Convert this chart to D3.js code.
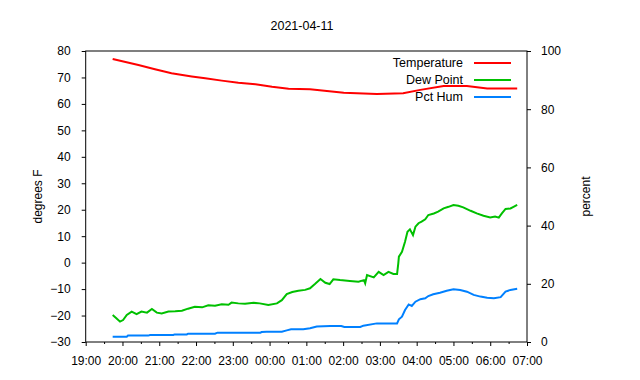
<!DOCTYPE html>
<html>
<head>
<meta charset="utf-8">
<script src="https://cdn.jsdelivr.net/npm/d3@7"></script>
<style>
  html, body { margin: 0; padding: 0; background: #fff; }
  svg { display: block; }
  text { font-family: "Liberation Sans", Arial, sans-serif; fill: #000; }
</style>
</head>
<body>
<svg id="chart" width="640" height="380"></svg>
<script>
// ---- Data ----
const title = "2021-04-11";
const xTickLabels = ["19:00","20:00","21:00","22:00","23:00","00:00","01:00","02:00","03:00","04:00","05:00","06:00","07:00"];
const leftTicks = [-30,-20,-10,0,10,20,30,40,50,60,70,80];
const rightTicks = [0,20,40,60,80,100];
const seriesNames = ["Temperature","Dew Point","Pct Hum"];

const tempTimes = ["19:44","20:26","20:53","21:20","21:53","22:15","22:42","23:09","23:37","00:04","00:31","01:06","02:01","02:55","03:38","04:06","04:44","05:22","05:55","06:44"];
const tempValues = [77.0,74.7,73.1,71.6,70.4,69.7,68.8,68.0,67.4,66.5,65.75,65.5,64.25,63.75,64.0,65.3,66.8,66.8,65.8,65.8];

const dewTimes = ["19:44","19:50","19:56","20:01","20:07","20:15","20:23","20:31","20:40","20:48","20:56","21:04","21:15","21:26","21:37","21:47","21:58","22:10","22:20","22:31","22:42","22:53","22:58","23:09","23:20","23:34","23:44","23:58","00:12","00:20","00:28","00:37","00:47","00:58","01:06","01:14","01:23","01:31","01:38","01:44","01:55","02:11","02:25","02:34","02:36","02:39","02:50","02:58","03:06","03:14","03:22","03:28","03:30","03:31","03:36","03:41","03:45","03:49","03:54","03:58","04:03","04:08","04:14","04:19","04:28","04:35","04:44","04:52","05:00","05:08","05:16","05:28","05:38","05:49","06:00","06:08","06:14","06:19","06:25","06:33","06:38","06:44"];
const dewValues = [-19.8,-21.0,-22.3,-21.7,-19.8,-18.5,-19.5,-18.5,-18.9,-17.5,-18.9,-19.2,-18.5,-18.4,-18.2,-17.4,-16.65,-16.9,-16.1,-16.3,-15.75,-15.9,-15.1,-15.4,-15.5,-15.2,-15.4,-16.0,-15.4,-14.2,-11.9,-11.1,-10.6,-10.3,-9.7,-8.1,-6.2,-7.6,-8.1,-6.3,-6.6,-6.9,-7.2,-6.6,-7.8,-4.7,-5.6,-3.5,-4.7,-3.5,-4.3,-4.3,-0.25,2.25,4.1,7.9,11.7,12.6,10.4,13.6,14.9,15.5,16.4,18.0,18.6,19.25,20.5,21.1,21.8,21.5,20.9,19.6,18.6,17.7,17.1,17.4,17.0,18.6,20.3,20.5,21.1,21.8];

const humTimes = ["19:44","20:07","20:09","20:42","20:45","21:23","21:25","21:45","21:47","22:31","22:35","23:45","23:47","23:55","00:20","00:28","00:35","00:55","01:06","01:17","01:39","01:57","02:02","02:28","02:33","02:55","03:28","03:31","03:36","03:41","03:47","03:52","03:58","04:06","04:14","04:19","04:27","04:38","04:49","05:00","05:11","05:22","05:33","05:44","05:55","06:06","06:17","06:25","06:33","06:44"];
const humValues = [1.8,1.8,2.2,2.2,2.4,2.4,2.6,2.6,2.85,2.85,3.2,3.2,3.4,3.5,3.5,4.0,4.35,4.35,4.7,5.3,5.5,5.5,5.15,5.15,5.6,6.4,6.4,7.8,8.7,11.0,12.9,12.4,13.85,14.7,15.0,15.8,16.4,16.9,17.6,18.1,17.9,17.3,16.2,15.6,15.2,15.0,15.4,17.3,17.9,18.3];

// ---- Helpers ----
function toDate(hm) {
  const [h, m] = hm.split(":").map(Number);
  // times before noon belong to the next day
  return new Date(2021, 3, h < 12 ? 12 : 11, h, m);
}

const svg = d3.select("#chart");
const L = 85.7, R = 527, T = 51, B = 342;

const x = d3.scaleTime()
  .domain([toDate("19:00"), toDate("07:00")])
  .range([L, R]);
const yL = d3.scaleLinear().domain([-30, 80]).range([B, T]);
const yR = d3.scaleLinear().domain([0, 100]).range([B, T]);

const fs = 12;

// Title
svg.append("text").attr("x", 302).attr("y", 30).attr("text-anchor", "middle")
  .style("font-size", "12.5px").text(title);

// Bottom axis (major hours + minor half hours)
const xMajor = xTickLabels.map(toDate);
const xMinor = d3.timeMinute.every(30).range(toDate("19:00"), toDate("07:00"))
  .filter(d => d.getMinutes() === 30);

const gx = svg.append("g").attr("transform", `translate(0,${B})`);
gx.call(d3.axisBottom(x).tickValues(xMinor).tickSize(2).tickFormat("").tickSizeOuter(0));
gx.select(".domain").remove();
const gx2 = svg.append("g").attr("transform", `translate(0,${B})`);
gx2.call(d3.axisBottom(x).tickValues(xMajor).tickSize(4).tickSizeOuter(0)
  .tickFormat((d, i) => xTickLabels[i]).tickPadding(10));
gx2.select(".domain").remove();
gx2.selectAll("text").style("font-size", fs + "px").style("font-family", "Liberation Sans, Arial, sans-serif");

// Left axis
const gl = svg.append("g").attr("transform", `translate(${L},0)`);
gl.call(d3.axisLeft(yL).tickValues(leftTicks).tickSize(4).tickSizeOuter(0).tickPadding(11));
gl.select(".domain").remove();
gl.selectAll("text").style("font-size", fs + "px").style("font-family", "Liberation Sans, Arial, sans-serif");

// Right axis
const gr = svg.append("g").attr("transform", `translate(${R},0)`);
gr.call(d3.axisRight(yR).tickValues(rightTicks).tickSize(4).tickSizeOuter(0).tickPadding(10));
gr.select(".domain").remove();
gr.selectAll("text").style("font-size", fs + "px").style("font-family", "Liberation Sans, Arial, sans-serif");

svg.selectAll(".tick line").attr("stroke", "#000").attr("stroke-width", 1);

// Frame
svg.append("rect").attr("x", L).attr("y", T).attr("width", R - L).attr("height", B - T)
  .attr("fill", "none").attr("stroke", "#000").attr("stroke-width", 1);

// Axis titles
svg.append("text").attr("transform", `translate(41.5,${(T + B) / 2}) rotate(-90)`)
  .attr("text-anchor", "middle").style("font-size", fs + "px").text("degrees F");
svg.append("text").attr("transform", `translate(590,${(T + B) / 2}) rotate(-90)`)
  .attr("text-anchor", "middle").style("font-size", fs + "px").text("percent");

// Lines
const colors = ["#ff0000", "#00c000", "#0080ff"];
const series = [
  { times: tempTimes, values: tempValues, y: yL },
  { times: dewTimes, values: dewValues, y: yL },
  { times: humTimes, values: humValues, y: yR }
];
series.forEach((s, i) => {
  const pts = s.times.map((t, j) => [toDate(t), s.values[j]]);
  const line = d3.line().x(d => x(d[0])).y(d => s.y(d[1]));
  svg.append("path").datum(pts).attr("d", line)
    .attr("fill", "none").attr("stroke", colors[i]).attr("stroke-width", 2)
    .attr("stroke-linejoin", "miter");
});

// Legend
const legY = [63, 80, 97];
seriesNames.forEach((name, i) => {
  svg.append("text").attr("x", 463).attr("y", legY[i]).attr("dy", "0.35em")
    .attr("text-anchor", "end").style("font-size", "12.5px").text(name);
  svg.append("line").attr("x1", 474).attr("x2", 511).attr("y1", legY[i]).attr("y2", legY[i])
    .attr("stroke", colors[i]).attr("stroke-width", 2);
});
</script>
</body>
</html>
